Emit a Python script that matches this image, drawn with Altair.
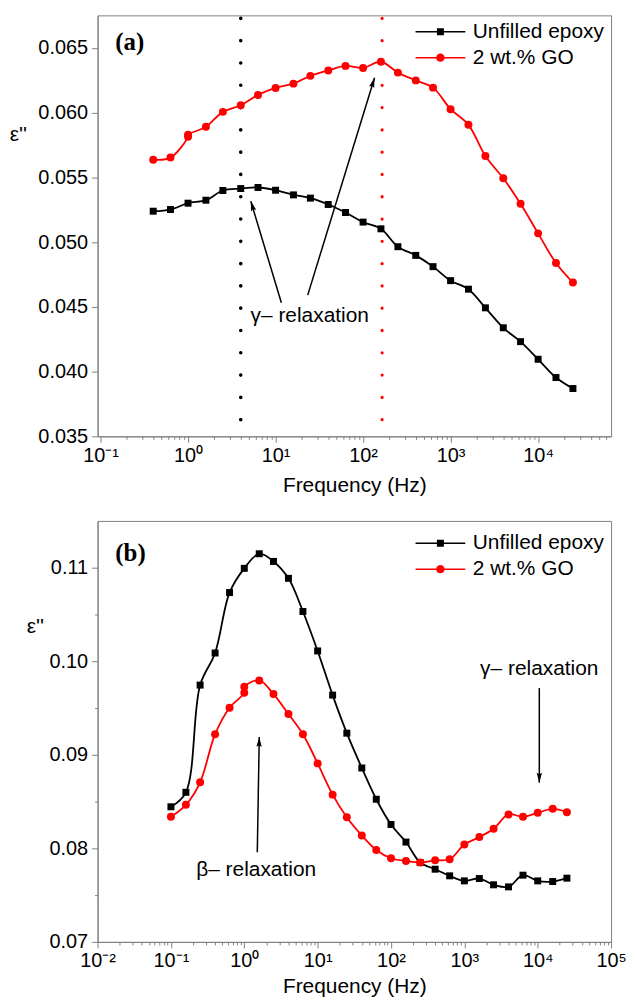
import math
import altair as alt
import pandas as pd

SERIES = ["Unfilled epoxy", "2 wt.% GO"]
COLORS = ["#000000", "#ff0000"]

# ---------------- panel (a) data ----------------
a_f_black = [0.4, 0.63, 1, 1.6, 2.5, 4, 6.3, 10, 16, 25, 40, 63, 100, 160, 250,
             400, 630, 1000, 1600, 2500, 4000, 6300, 10000, 16000, 25000]
a_e_black = [0.05238, 0.05251, 0.05300, 0.05323, 0.05398, 0.05413, 0.05421, 0.05400,
             0.05364, 0.05339, 0.05290, 0.05228, 0.05154, 0.05102, 0.04964, 0.04897,
             0.04810, 0.04702, 0.04636, 0.04492, 0.04338, 0.04231, 0.04095, 0.03954,
             0.03869]
a_f_red = [0.4, 0.63, 1, 1, 1.6, 2.5, 4, 6.3, 10, 16, 25, 40, 63, 100, 160, 250,
           400, 630, 1000, 1600, 2500, 4000, 6300, 10000, 16000, 25000]
a_e_red = [0.05636, 0.05652, 0.05813, 0.05828, 0.05890, 0.06005, 0.06056, 0.06136,
           0.06190, 0.06223, 0.06283, 0.06325, 0.06360, 0.06344, 0.06392, 0.06308,
           0.06248, 0.06192, 0.06026, 0.05905, 0.05664, 0.05492, 0.05295, 0.05067,
           0.04838, 0.04687]
a_vline_f = [4, 165]
a_vline_c = ["#000000", "#ff0000"]
a_arrow_tail_f = [11.65, 23.3]
a_arrow_tail_e = [0.04531, 0.04590]
a_arrow_tip_f = [5.21, 135.2]
a_arrow_tip_e = [0.05316, 0.06269]
a_text = ["γ– relaxation"]
a_text_f = [5.18]
a_text_e = [0.04431]

# ---------------- panel (b) data ----------------
b_f_black = [0.1, 0.16, 0.25, 0.4, 0.63, 1, 1.6, 2.5, 4, 6.3, 10, 16, 25, 40, 63,
             100, 160, 250, 400, 630, 1000, 1600, 2500, 4000, 6300, 10000, 16000, 25000]
b_e_black = [0.08444, 0.08599, 0.09745, 0.10088, 0.10734, 0.10993, 0.11149, 0.11067,
             0.10886, 0.10532, 0.10110, 0.09638, 0.09231, 0.08859, 0.08525, 0.08255,
             0.08067, 0.07848, 0.07777, 0.07706, 0.07652, 0.07677, 0.07610, 0.07588,
             0.07713, 0.07652, 0.07645, 0.07681]
b_f_red = [0.1, 0.16, 0.25, 0.4, 0.63, 1, 1, 1.6, 2.5, 4, 6.3, 10, 16, 25, 40, 63,
           100, 160, 250, 400, 630, 1000, 1600, 2500, 4000, 6300, 10000, 16000, 25000]
b_e_red = [0.08337, 0.08465, 0.08706, 0.09220, 0.09503, 0.09663, 0.09727, 0.09795,
           0.09649, 0.09436, 0.09220, 0.08908, 0.08574, 0.08333, 0.08138, 0.07982,
           0.07894, 0.07865, 0.07848, 0.07872, 0.07883, 0.08041, 0.08120, 0.08209,
           0.08362, 0.08337, 0.08380, 0.08422, 0.08386]
b_arrow_tail_f = [1.504, 10508]
b_arrow_tail_e = [0.07957, 0.09713]
b_arrow_tip_f = [1.60, 10508]
b_arrow_tip_e = [0.09191, 0.08702]
b_text = ["β– relaxation", "γ– relaxation"]
b_text_f = [0.221, 1640]
b_text_e = [0.07766, 0.09915]

# ---------------- styling ----------------
FONT = "Liberation Sans"
SERIF = "Liberation Serif"
W = 516
H = 423
AXIS_GRAY = "#808080"

SQ_PATH = "M-2.5,-0.075H2.5V0.075H-2.5Z M-0.35,-0.35H0.35V0.35H-0.35Z"
CI_PATH = ("M-2.5,-0.075H2.5V0.075H-2.5Z "
           "M0.42,0A0.42,0.42 0 1,1 -0.42,0A0.42,0.42 0 1,1 0.42,0Z")
ARROW_PATH = "M0,0L0.27,1L0,0.85L-0.27,1Z"

DEC_TEST = "abs(log(datum.value)/LN10 - round(log(datum.value)/LN10)) < 0.001"
XLABEL = ("(" + DEC_TEST + ") ? ((round(log(datum.value)/LN10) < 0 ? '10⁻' : '10') + "
          "['⁰','¹','²','³','⁴','⁵','⁶'][abs(round(log(datum.value)/LN10))]) : ''")


def log_ticks(lo, hi):
    out = []
    for n in range(-3, 7):
        for k in range(1, 10):
            v = float(f"{k}e{n}")
            if lo <= v <= hi:
                out.append(v)
    return out


def panel(fb, eb, fr, er, xdom, ydom, yvals, ymul, yfmt, ytx, yty, xtpad,
          tails_f, tails_e, tips_f, tips_e, texts, texts_f, texts_e,
          tag, tag_f, tag_e, leg_y, vlines=None, vcols=None):
    xs = alt.Scale(type="log", domain=xdom, nice=False)
    ys = alt.Scale(domain=ydom, nice=False, zero=False)
    xaxis = alt.Axis(
        values=log_ticks(xdom[0], xdom[1]), labelExpr=XLABEL,
        tickSize={"condition": {"test": DEC_TEST, "value": 6}, "value": 3},
        labelFontSize=20, labelFont=FONT, labelPadding=3, labelOverlap=False,
        labelFlush=False, labelBound=False, title="Frequency (Hz)", titleFontSize=21,
        titleFont=FONT, titleFontWeight="normal", titlePadding=xtpad, grid=False)
    ytest = f"abs(datum.value*{ymul} - round(datum.value*{ymul})) < 0.001"
    yaxis = alt.Axis(
        values=yvals,
        labelExpr=f"({ytest}) ? format(datum.value, '{yfmt}') : ''",
        tickSize={"condition": {"test": ytest, "value": 6}, "value": 3},
        labelFontSize=20, labelFont=FONT, labelPadding=4, labelOverlap=False,
        title="ε''", titleAngle=0, titleAlign="center", titleBaseline="middle",
        titleX=ytx, titleY=yty, titleFontSize=21, titleFont=FONT,
        titleFontWeight="normal", grid=False)
    X = alt.X("f:Q", scale=xs, axis=xaxis)
    Y = alt.Y("v:Q", scale=ys, axis=yaxis)

    pts = pd.DataFrame({"f": fb + fr, "v": eb + er,
                        "series": [SERIES[0]] * len(fb) + [SERIES[1]] * len(fr)})
    layers = []
    if vlines:
        ytop = ydom[1] - 3.0 / H * (ydom[1] - ydom[0])
        for vf, vc in zip(vlines, vcols):
            layers.append(alt.Chart(pd.DataFrame({"f": [vf]})).mark_rule(
                color=vc, strokeWidth=3.6 if vc == "#000000" else 3.2,
                strokeDash=[0.1, 22.3], strokeCap="round").encode(
                x=X, y=alt.datum(ytop), y2=alt.datum(ydom[0])))
    for s, c, shp, sz in [(SERIES[0], COLORS[0], "square", 49),
                          (SERIES[1], COLORS[1], "circle", 64)]:
        base = alt.Chart(pts).transform_filter(alt.datum.series == s)
        layers.append(base.mark_line(color=c, strokeWidth=1.8,
                                     interpolate="catmull-rom").encode(x=X, y=Y))
        layers.append(base.mark_point(shape=shp, filled=True, size=sz, color=c,
                                      opacity=1).encode(x=X, y=Y))
    leg = alt.Legend(orient="none", legendX=334, legendY=leg_y, title=None,
                     labelFontSize=21, labelFont=FONT, labelColor="black",
                     symbolSize=400, symbolOpacity=1, symbolStrokeWidth=0,
                     labelOffset=22, rowPadding=4, padding=0)
    layers.append(alt.Chart(pts).mark_point(filled=True, opacity=0).encode(
        x=X, y=Y,
        color=alt.Color("series:N", scale=alt.Scale(domain=SERIES, range=COLORS),
                        legend=leg),
        shape=alt.Shape("series:N", scale=alt.Scale(domain=SERIES,
                                                     range=[SQ_PATH, CI_PATH]),
                        legend=leg)))
    lx0, lx1 = math.log10(xdom[0]), math.log10(xdom[1])
    angs = []
    for tf, te, pf, pe in zip(tails_f, tails_e, tips_f, tips_e):
        dx = (math.log10(pf) - math.log10(tf)) / (lx1 - lx0) * W
        dy = -(pe - te) / (ydom[1] - ydom[0]) * H
        angs.append(math.degrees(math.atan2(dx, -dy)) % 360)
    arr = pd.DataFrame({"f": tails_f, "v": tails_e, "f2": tips_f, "v2": tips_e})
    layers.append(alt.Chart(arr).mark_rule(color="black", strokeWidth=1.5).encode(
        x=X, y=Y, x2=alt.X2("f2:Q"), y2=alt.Y2("v2:Q")))
    heads = pd.DataFrame({"f": tips_f, "v": tips_e, "ang": angs})
    layers.append(alt.Chart(heads).mark_point(shape=ARROW_PATH, filled=True, size=400,
                                              color="black", opacity=1).encode(
        x=X, y=Y, angle=alt.Angle("ang:Q", scale=None)))
    txt = pd.DataFrame({"f": texts_f, "v": texts_e, "label": texts})
    layers.append(alt.Chart(txt).mark_text(align="left", baseline="middle", font=FONT,
                                           fontSize=21, color="black").encode(
        x=X, y=Y, text="label:N"))
    tg = pd.DataFrame({"f": [tag_f], "v": [tag_e], "label": [tag]})
    layers.append(alt.Chart(tg).mark_text(align="left", baseline="middle", font=SERIF,
                                          fontSize=25, fontWeight="bold",
                                          color="black").encode(
        x=X, y=Y, text="label:N"))
    return alt.layer(*layers).properties(width=W, height=H)


ya = [round(0.035 + 0.0025 * i, 5) for i in range(13)]
yb = [round(0.07 + 0.005 * i, 4) for i in range(9)]

pa = panel(a_f_black, a_e_black, a_f_red, a_e_red, [0.0925, 68200], [0.035, 0.0675],
           ya, 200, ".3f", -80, 120, 9,
           a_arrow_tail_f, a_arrow_tail_e, a_arrow_tip_f, a_arrow_tip_e,
           a_text, a_text_f, a_text_e, "(a)", 0.1476, 0.06546, 6,
           vlines=a_vline_f, vcols=a_vline_c)
pb = panel(b_f_black, b_e_black, b_f_red, b_e_red, [0.01, 100000], [0.07, 0.115],
           yb, 100, ".2f", -63, 106, 5,
           b_arrow_tail_f, b_arrow_tail_e, b_arrow_tip_f, b_arrow_tip_e,
           b_text, b_text_f, b_text_e, "(b)", 0.01746, 0.1116, 12)

chart = alt.vconcat(pa, pb, spacing=24).resolve_scale(
    color="independent", shape="independent").resolve_legend(
    color="independent", shape="independent").configure(
    padding={"left": 0, "top": 4, "right": 0, "bottom": 0}
).configure_view(stroke=AXIS_GRAY, strokeWidth=1).configure_axis(
    domainColor=AXIS_GRAY, tickColor=AXIS_GRAY, labelColor="black", titleColor="black")

chart.save("out.html", embed_options={"renderer": "svg", "actions": False})
